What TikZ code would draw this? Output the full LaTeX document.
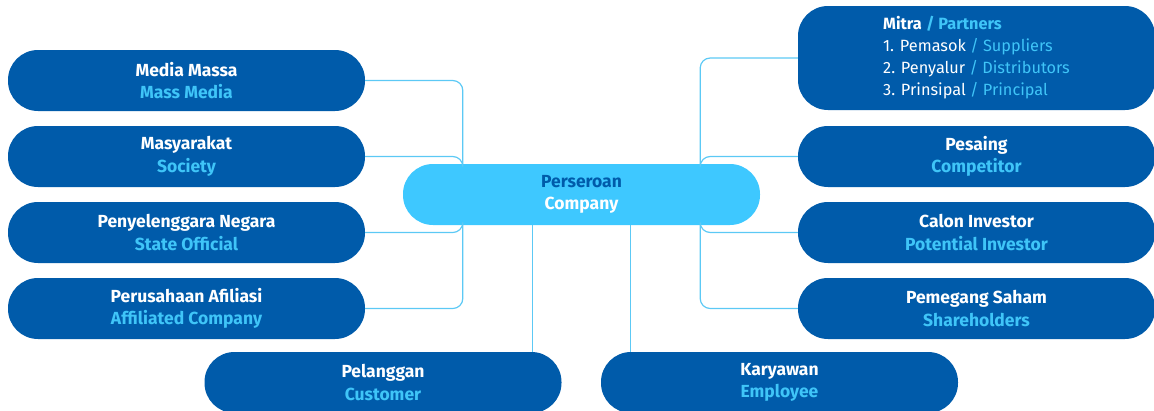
\documentclass[tikz,border=0pt]{standalone}
\usepackage{fontspec}
\setmainfont{Fira Sans}
\usepackage{tikz}
\usetikzlibrary{calc}
\definecolor{navy}{HTML}{005BAA}
\definecolor{sky}{HTML}{3FC5F8}
\definecolor{hubfill}{HTML}{3EC8FF}
\definecolor{wire}{HTML}{5CC9F5}
\tikzset{
  party/.style={fill=navy, rounded corners=30pt, minimum width=357pt, minimum height=61pt,
    inner sep=0pt, align=center, text=white, font=\fontsize{17.5}{22.5}\selectfont\bfseries},
  hub/.style={party, fill=hubfill},
  link/.style={draw=wire, line width=1.2pt, rounded corners=10pt}
}

\begin{document}
\begin{tikzpicture}[x=1pt,y=-1pt]
\useasboundingbox (0,0) rectangle (1154,410);
% centre
\node[hub] (comp) at (581.5,194.5) {\textcolor{navy}{Perseroan}\\Company};

% left side
\node[party] (media) at (186.5,80.5) {Media Massa\\\textcolor{sky}{Mass Media}};
\node[party] (society) at (186.5,156.5) {Masyarakat\\\textcolor{sky}{Society}};
\node[party] (state) at (186.5,232.5) {Penyelenggara Negara\\\textcolor{sky}{State Official}};
\node[party] (affil) at (186.5,308.5) {Perusahaan Afiliasi\\\textcolor{sky}{Affiliated Company}};

% right side
\node[party, minimum height=104pt, align=left, font=\fontsize{16.3}{22}\selectfont] (partner) at (976.5,58)
  {\textbf{Mitra} \textcolor{sky}{\textbf{/ Partners}}\\
   1. Pemasok \textcolor{sky}{/ Suppliers}\\
   2. Penyalur \textcolor{sky}{/ Distributors}\\
   3. Prinsipal \textcolor{sky}{/ Principal}};
\node[party] (rival) at (976.5,156.5) {Pesaing\\\textcolor{sky}{Competitor}};
\node[party] (investor) at (976.5,232.5) {Calon Investor\\\textcolor{sky}{Potential Investor}};
\node[party] (holder) at (976.5,308.5) {Pemegang Saham\\\textcolor{sky}{Shareholders}};

% bottom
\node[party] (customer) at (383,382.5) {Pelanggan\\\textcolor{sky}{Customer}};
\node[party] (staff) at (779.5,382.5) {Karyawan\\\textcolor{sky}{Employee}};

% connectors
\coordinate (nl) at ([xshift=60pt]comp.north west);
\coordinate (sl) at ([xshift=60pt]comp.south west);
\coordinate (nr) at ([xshift=-60pt]comp.north east);
\coordinate (sr) at ([xshift=-60pt]comp.south east);
\coordinate (bl) at ([xshift=130pt]comp.south west);
\coordinate (br) at ([xshift=-130pt]comp.south east);
\draw[link] (media.east) -| (nl);
\draw[link] (society.east) -| (nl);
\draw[link] (state.east) -| (sl);
\draw[link] (affil.east) -| (sl);
\draw[link] (partner.west) -| (nr);
\draw[link] (rival.west) -| (nr);
\draw[link] (investor.west) -| (sr);
\draw[link] (holder.west) -| (sr);
\draw[link] (bl) -- (bl |- customer.north);
\draw[link] (br) -- (br |- staff.north);
\end{tikzpicture}
\end{document}
